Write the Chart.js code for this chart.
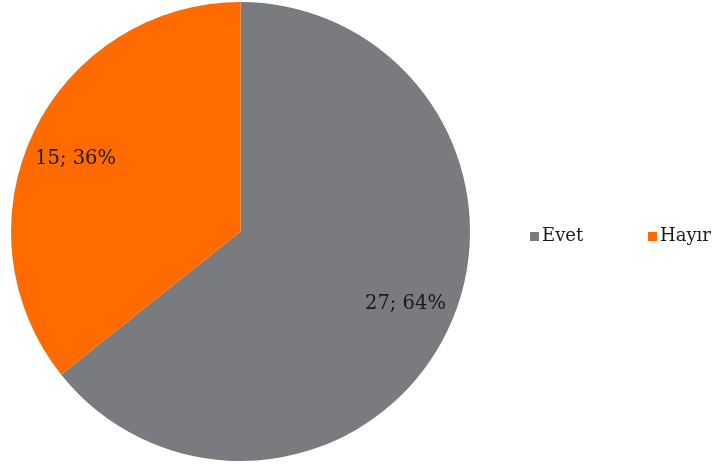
<!DOCTYPE html>
<html>
<head>
<meta charset="utf-8">
<script src="https://cdn.jsdelivr.net/npm/chart.js@4/dist/chart.umd.min.js"></script>
<style>
  html, body { margin: 0; padding: 0; background: #fff; }
  #wrap { width: 717px; height: 470px; }
</style>
</head>
<body>
<div id="wrap"><canvas id="pieChart" width="717" height="470"></canvas></div>
<script>
const categories = ['Evet', 'Hayır'];
const counts = [27, 15];
const percents = ['64%', '36%'];
const sliceColors = ['#7a7b7f', '#ff6b00'];

const fontFamily = '"DejaVu Serif", Georgia, serif';

// etiketler dilimlerin ortasina yakin, "deger; yuzde" seklinde
const sliceLabels = {
    id: 'sliceLabels',
    afterDatasetsDraw(chart) {
        const ctx = chart.ctx;
        const meta = chart.getDatasetMeta(0);
        ctx.save();
        ctx.font = '19.5px ' + fontFamily;
        ctx.fillStyle = '#1a1a1a';
        ctx.textAlign = 'center';
        ctx.textBaseline = 'middle';
        meta.data.forEach((arc, i) => {
            // Excel etiketi biraz yataya dogru kayiyor
            let mid = (arc.startAngle + arc.endAngle) / 2;
            mid -= 0.035 * Math.sign(Math.cos(mid)) * Math.sign(Math.sin(mid));
            const r = arc.outerRadius * 0.785;
            const x = arc.x + Math.cos(mid) * r;
            const y = arc.y + Math.sin(mid) * r;
            ctx.fillText(counts[i] + '; ' + percents[i], x, y);
        });
        ctx.restore();
    }
};

// yatay lejant, sag tarafta
const sideLegend = {
    id: 'sideLegend',
    afterDraw(chart) {
        const ctx = chart.ctx;
        const startX = [530, 648];
        const y = 236;
        ctx.save();
        ctx.font = '18px ' + fontFamily;
        ctx.textBaseline = 'middle';
        ctx.textAlign = 'left';
        categories.forEach((name, i) => {
            ctx.fillStyle = sliceColors[i];
            ctx.fillRect(startX[i], y - 4, 9, 9);
            ctx.fillStyle = '#1a1a1a';
            ctx.fillText(name, startX[i] + 12, y);
        });
        ctx.restore();
    }
};

const ctx = document.getElementById('pieChart').getContext('2d');
const pieChart = new Chart(ctx, {
    type: 'pie',
    data: {
        labels: categories,
        datasets: [{
            data: counts,
            backgroundColor: sliceColors,
            borderWidth: 0
        }]
    },
    options: {
        responsive: false,
        animation: false,
        layout: {
            padding: { left: 11, top: 2, bottom: 9, right: 247 }
        },
        plugins: {
            legend: { display: false },
            tooltip: { enabled: false }
        }
    },
    plugins: [sliceLabels, sideLegend]
});
</script>
</body>
</html>
